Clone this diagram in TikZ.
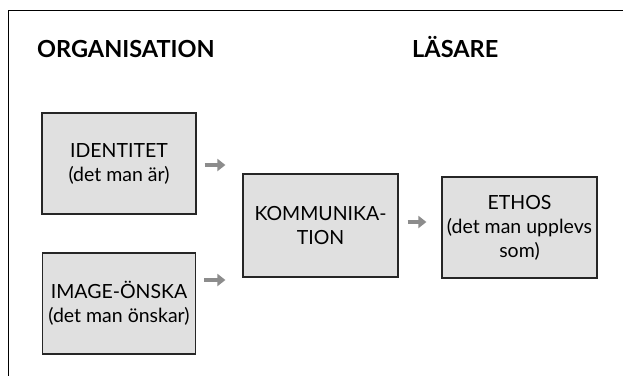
\documentclass[tikz,border=0pt]{standalone}
\usepackage{fontspec}
\setmainfont{Lato}
\usetikzlibrary{arrows.meta}
\definecolor{boxfill}{HTML}{E0E0E0}
\definecolor{arrowgray}{HTML}{8C8C8C}
\begin{document}
\begin{tikzpicture}[x=1pt,y=-1pt,
  box/.style={draw=black!85,line width=1.2pt,fill=boxfill,align=center,
    font=\fontsize{19.5}{24}\selectfont,inner sep=0pt},
  title/.style={font=\fontsize{23.5}{26}\selectfont\bfseries,anchor=base west,inner sep=0pt},
  flow/.style={arrowgray,line width=4pt,-{Triangle[length=8pt,width=12pt]}}]
\useasboundingbox (0,0) rectangle (623,375);
\draw[line width=0.9pt] (8,380) -- (8,10) -- (630,10);
\node[title] (org) at (37,57) {ORGANISATION};
\node[title] (las) at (412,57) {LÄSARE};
\node[box,minimum width=154pt,minimum height=101pt] (id) at (119,163.5) {IDENTITET\\(det man är)};
\node[box,minimum width=153pt,minimum height=101pt] (img) at (119,303.5) {IMAGE-ÖNSKA\\(det man önskar)};
\node[box,minimum width=155pt,minimum height=103pt] (kom) at (320.5,225.5) {KOMMUNIKA-\\TION};
\node[box,minimum width=155pt,minimum height=101pt] (eth) at (519.5,227.5) {ETHOS\\(det man upplevs\\som)};
\coordinate (a1s) at ([xshift=8pt]id.east |- 0,165);
\coordinate (a1e) at ([xshift=-17pt]kom.west |- 0,165);
\draw[flow] (a1s) -- (a1e);
\coordinate (a2s) at ([xshift=8pt]img.east |- 0,280);
\coordinate (a2e) at ([xshift=-17pt]kom.west |- 0,280);
\draw[flow] (a2s) -- (a2e);
\coordinate (a3s) at ([xshift=9pt]kom.east |- 0,222);
\coordinate (a3e) at ([xshift=-15pt]eth.west |- 0,222);
\draw[flow] (a3s) -- (a3e);
\end{tikzpicture}
\end{document}
